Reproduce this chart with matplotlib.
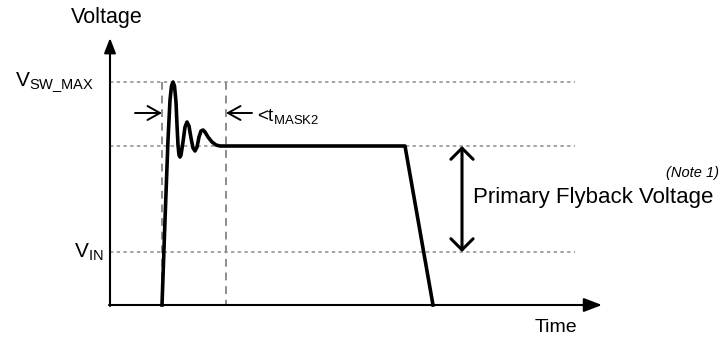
import matplotlib.pyplot as plt

plt.rcParams['font.family'] = ['Liberation Sans', 'DejaVu Sans']
plt.rcParams['mathtext.fontset'] = 'custom'
plt.rcParams['mathtext.rm'] = 'Liberation Sans'
plt.rcParams['mathtext.it'] = 'Liberation Sans:italic'

# waveform (pixel coordinates, y grows downwards)
wave_x = [162, 165, 168, 170, 171.5, 173, 174.5, 176, 177, 178, 179, 180, 181, 183, 185,
          187, 189, 191, 193, 195, 197, 199, 201, 203, 205, 208, 212, 216, 220, 226, 405, 433]
wave_y = [305, 220, 140, 100, 86, 82, 86, 102, 125, 145, 155, 157, 155, 142, 127,
          122, 126, 138, 148, 151, 147, 137, 131, 130, 132, 137, 142, 145, 146, 146, 146, 305]

# reference levels
level_y = [82, 146, 252]          # V_SW_MAX, flyback plateau, V_IN
level_labels = [r'$\mathregular{V_{SW\_MAX}}$', None, r'$\mathregular{V_{IN}}$']
level_label_x = [94, None, 104]
mask_x = [162, 226]               # t_MASK2 window

x0, y0 = 110, 305
x_end, y_top = 602, 38
grid_end = 575

fig = plt.figure(figsize=(7.21, 3.45), dpi=100)
ax = fig.add_axes([0, 0, 1, 1])
ax.set_xlim(0, 721)
ax.set_ylim(345, 0)
ax.axis('off')

# dotted levels
for y in level_y:
    ax.plot([x0, grid_end], [y, y], color='#8c8c8c', lw=1.1, ls=(0, (2.2, 2.2)))
# dashed window markers
for x in mask_x:
    ax.plot([x, x], [level_y[0], y0], color='#8c8c8c', lw=1.4, ls=(0, (4, 3)))

# axes with filled arrowheads
ax.annotate('', xy=(x0, y_top), xytext=(x0, y0 + 1),
            arrowprops=dict(arrowstyle='-|>,head_length=0.9,head_width=0.35',
                            color='black', lw=1.5, shrinkA=0, shrinkB=0))
ax.annotate('', xy=(x_end, y0), xytext=(x0 - 1, y0),
            arrowprops=dict(arrowstyle='-|>,head_length=1.1,head_width=0.42',
                            color='black', lw=1.5, shrinkA=0, shrinkB=0))

# waveform
ax.plot(wave_x, wave_y, color='black', lw=2.6, solid_joinstyle='round', zorder=5)

# t_MASK2 arrows
ax.annotate('', xy=(mask_x[0], 113), xytext=(135, 113),
            arrowprops=dict(arrowstyle='->,head_length=0.9,head_width=0.5',
                            color='black', lw=1.4, shrinkA=0, shrinkB=0))
ax.annotate('', xy=(mask_x[1], 113), xytext=(252, 113),
            arrowprops=dict(arrowstyle='->,head_length=0.9,head_width=0.5',
                            color='black', lw=1.4, shrinkA=0, shrinkB=0))
ax.text(257, 116, r'<t$_{\mathregular{MASK2}}$', fontsize=13.5, va='center', ha='left')

# flyback double arrow
ax.annotate('', xy=(462, level_y[2]), xytext=(462, level_y[1]),
            arrowprops=dict(arrowstyle='<->,head_length=0.8,head_width=0.8',
                            color='black', lw=2.2, shrinkA=0, shrinkB=0))
ax.text(473, 197, 'Primary Flyback Voltage', fontsize=16, va='center', ha='left')
ax.text(719, 173, '(Note 1)', fontsize=10.5, style='italic', va='center', ha='right')

# labels
ax.text(71, 17, 'Voltage', fontsize=15.5, va='center', ha='left')
ax.text(535, 328, 'Time', fontsize=14, va='center', ha='left')
for y, lab, lx in zip(level_y, level_labels, level_label_x):
    if lab:
        ax.text(lx, y, lab, fontsize=15, va='center', ha='right')

fig.savefig('out.png', dpi=100)
